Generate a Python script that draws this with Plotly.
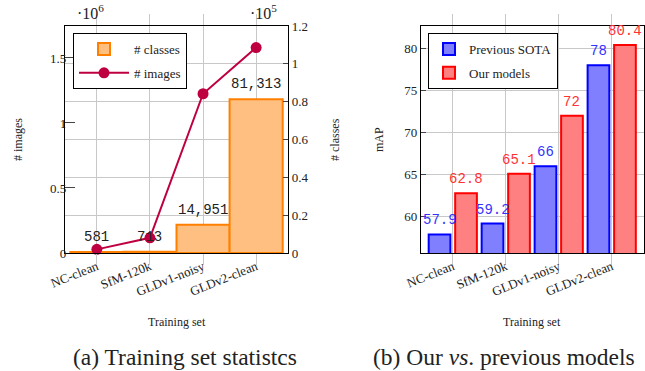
import plotly.graph_objects as go

# ---------------- data ----------------
datasets = ["NC-clean", "SfM-120k", "GLDv1-noisy", "GLDv2-clean"]
num_classes = [581, 713, 14951, 81313]
num_images_m = [0.028, 0.117, 1.225, 1.580]   # in millions (x10^6)
prev_sota = [57.9, 59.2, 66, 78]
our_models = [62.8, 65.1, 72, 80.4]
img_ticks = [0, 0.5, 1, 1.5]
cls_ticks = [0, 0.2, 0.4, 0.6, 0.8, 1.0, 1.2]
map_ticks = [60, 65, 70, 75, 80]

W, H = 645, 371
SERIF = "Liberation Serif, Times New Roman, serif"
MONO = "Liberation Mono, DejaVu Sans Mono, monospace"

ORANGE_FILL = "#ffbf80"
ORANGE_EDGE = "#ff8000"
PURPLE = "#bf0040"
BLUE_FILL = "#8080ff"
BLUE_EDGE = "#0000ff"
RED_FILL = "#ff8080"
RED_EDGE = "#ff0000"
GRID = "#c8c8c8"

def px_x(p):
    return p / W

def px_y(p):
    return 1 - p / H

y_dom = [px_y(253), px_y(26)]
xd1 = [px_x(65), px_x(288)]
xd2 = [px_x(421), px_x(643.5)]

fig = go.Figure()

# ---- left panel: classes bars (base axis y, right side) ----
cls_scaled = [c / 1e5 for c in num_classes]
fig.add_trace(go.Bar(
    x=datasets, y=cls_scaled, width=1.0, offset=-0.5,
    marker=dict(color=ORANGE_FILL, line=dict(color=ORANGE_EDGE, width=2)),
    name="# classes", xaxis="x", yaxis="y", legend="legend", legendgroup="a",
))
# images line (overlay axis y2, left side)
fig.add_trace(go.Scatter(
    x=datasets, y=num_images_m, mode="lines+markers",
    line=dict(color=PURPLE, width=2),
    marker=dict(color=PURPLE, size=11),
    name="# images", xaxis="x", yaxis="y2", legend="legend", legendgroup="b",
    cliponaxis=False,
))

# ---- right panel: mAP bars ----
fig.add_trace(go.Bar(
    x=datasets, y=prev_sota, width=0.41, offset=-0.455,
    marker=dict(color=BLUE_FILL, line=dict(color=BLUE_EDGE, width=2)),
    name="Previous SOTA", xaxis="x2", yaxis="y3", legend="legend2", legendgroup="c",
))
fig.add_trace(go.Bar(
    x=datasets, y=our_models, width=0.41, offset=0.045,
    marker=dict(color=RED_FILL, line=dict(color=RED_EDGE, width=2)),
    name="Our models", xaxis="x2", yaxis="y3", legend="legend2", legendgroup="d",
))

annotations = []
for i, c in enumerate(num_classes):
    annotations.append(dict(x=i, y=cls_scaled[i], xref="x", yref="y", text=f"{c:,}",
                            showarrow=False, yanchor="bottom", yshift=5,
                            font=dict(family=MONO, size=14, color="#222")))
for i, v in enumerate(prev_sota):
    annotations.append(dict(x=i - 0.25, y=v, xref="x2", yref="y3", text=f"{v:g}",
                            showarrow=False, yanchor="bottom", yshift=4,
                            font=dict(family=MONO, size=14, color="#3333ff")))
for i, v in enumerate(our_models):
    annotations.append(dict(x=i + 0.25, y=v, xref="x2", yref="y3", text=f"{v:g}",
                            showarrow=False, yanchor="bottom", yshift=4,
                            font=dict(family=MONO, size=14, color="#ff3333")))

# axis titles and captions
def ann(x, y, text, size=12, angle=0, family=SERIF):
    annotations.append(dict(x=px_x(x), y=px_y(y), xref="paper", yref="paper", text=text,
                            showarrow=False, textangle=angle, xanchor="center", yanchor="middle",
                            font=dict(family=family, size=size, color="#222")))

ann(177, 322, "Training set")
ann(532, 322, "Training set")
ann(18, 140, "# images", angle=-90)
ann(335, 140, "# classes", angle=-90)
ann(379, 140, "mAP", angle=-90)
ann(90, 12, "·10<sup>6</sup>", size=16)
ann(263, 12, "·10<sup>5</sup>", size=16)
ann(185, 357, "(a) Training set statistcs", size=23.5)
ann(504, 357, "(b) Our <i>vs</i>. previous models", size=23.5)

xcommon = dict(
    type="category", range=[-0.6, 3.6], showgrid=True, gridcolor=GRID, gridwidth=1,
    showline=True, linecolor="black", linewidth=1.2, mirror="allticks",
    ticks="outside", ticklen=11, tickcolor=GRID, tickwidth=1.2,
    ticklabelstandoff=-11,
    tickangle=-22, tickfont=dict(family=SERIF, size=13, color="#222"),
    zeroline=False, automargin=False,
)
tickfont = dict(family=SERIF, size=13, color="#222")

fig.update_layout(
    width=W, height=H, margin=dict(l=0, r=0, t=0, b=0, autoexpand=False),
    paper_bgcolor="white", plot_bgcolor="white",
    barmode="overlay",
    xaxis=dict(domain=xd1, anchor="y", **xcommon),
    xaxis2=dict(domain=xd2, anchor="y3", **xcommon),
    yaxis=dict(domain=y_dom, anchor="x", side="right", range=[0, 1.2],
               tickvals=cls_ticks, ticktext=[f"{t:g}" for t in cls_ticks],
               showgrid=True, gridcolor=GRID, zeroline=False,
               showline=True, linecolor="black", linewidth=1.2,
               ticks="inside", ticklen=5, tickcolor="#444",
               tickfont=tickfont, automargin=False),
    yaxis2=dict(domain=y_dom, anchor="x", overlaying="y", side="left", range=[0, 1.746],
                tickvals=img_ticks, ticktext=[f"{t:g}" for t in img_ticks],
                showgrid=False, zeroline=False,
                showline=True, linecolor="black", linewidth=1.2,
                ticks="inside", ticklen=10, tickcolor="#444",
                ticklabelstandoff=-5,
                tickfont=tickfont, automargin=False),
    yaxis3=dict(domain=y_dom, anchor="x2", range=[55.7, 82.65],
                tickvals=map_ticks, ticktext=[str(t) for t in map_ticks],
                showgrid=True, gridcolor=GRID, zeroline=False,
                showline=True, linecolor="black", linewidth=1.2, mirror=True,
                ticks="inside", ticklen=5, tickcolor="#444",
                tickfont=tickfont, automargin=False),
    legend=dict(x=px_x(73), y=px_y(33), xanchor="left", yanchor="top",
                bgcolor="white", bordercolor="black", borderwidth=1,
                font=dict(family=SERIF, size=13, color="#222"), itemwidth=50,
                tracegroupgap=4),
    legend2=dict(x=px_x(428), y=px_y(33), xanchor="left", yanchor="top",
                 bgcolor="white", bordercolor="black", borderwidth=1,
                 font=dict(family=SERIF, size=13, color="#222"), itemwidth=30,
                 tracegroupgap=4),
    annotations=annotations,
    showlegend=True,
)

fig.write_html("out.html", config={"displayModeBar": False},
               post_script="document.body.style.margin='0';")
